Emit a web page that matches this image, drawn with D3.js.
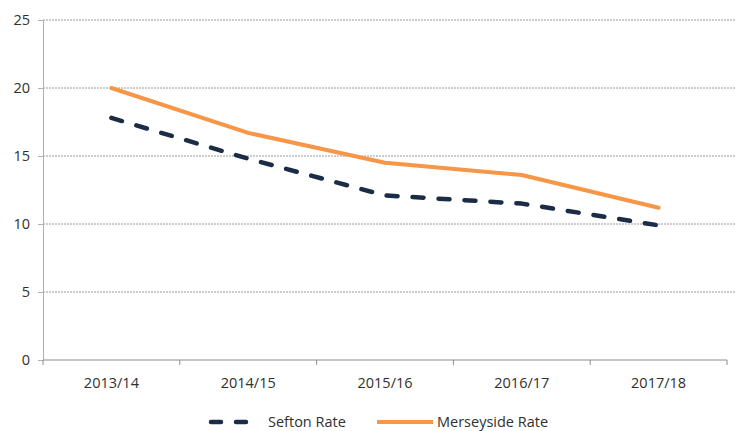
<!DOCTYPE html>
<html>
<head>
<meta charset="utf-8">
<script src="https://d3js.org/d3.v7.min.js"></script>
<style>
body { margin: 0; background: #fff; }
svg text { font-family: "Open Sans", "Liberation Sans", sans-serif; fill: #303030; }
</style>
</head>
<body>
<div id="chart"></div>
<script>
// data
const years = ['2013/14', '2014/15', '2015/16', '2016/17', '2017/18'];
const seftonRate = [17.8, 14.8, 12.1, 11.5, 9.9];
const merseysideRate = [20.0, 16.7, 14.5, 13.6, 11.2];
const yTicks = [0, 5, 10, 15, 20, 25];

const width = 737, height = 431;
const margin = {top: 20, right: 10, bottom: 71, left: 43};
const fontSize = '14.5px';

const svg = d3.select('#chart').append('svg')
	.attr('width', width).attr('height', height);

const x = d3.scaleBand().domain(years)
	.range([margin.left, width - margin.right]);
const y = d3.scaleLinear().domain([0, 25])
	.range([height - margin.bottom, margin.top]);

// gridlines
svg.append('g').selectAll('line').data(yTicks.filter(d => d > 0)).enter()
	.append('line')
	.attr('x1', margin.left).attr('x2', width - 2)
	.attr('y1', d => y(d)).attr('y2', d => y(d))
	.attr('stroke', '#9a9a9a').attr('stroke-width', 1)
	.attr('stroke-dasharray', '2,1');

// y axis
const yAxis = svg.append('g')
	.attr('transform', 'translate(' + margin.left + ',0)')
	.call(d3.axisLeft(y).tickValues(yTicks).tickSize(5).tickPadding(8));
yAxis.select('.domain').attr('stroke', '#b0b0b0');
yAxis.selectAll('.tick line').attr('stroke', '#b0b0b0');
yAxis.selectAll('text').style('font-size', fontSize).attr('fill', '#303030');

// x axis, ticks between categories
const xAxisG = svg.append('g')
	.attr('transform', 'translate(0,' + y(0) + ')');
xAxisG.append('line')
	.attr('x1', margin.left).attr('x2', width - margin.right)
	.attr('stroke', '#8c8c8c');
const bounds = years.map(d => x(d)).concat([x(years[years.length - 1]) + x.bandwidth()]);
xAxisG.selectAll('.xt').data(bounds).enter().append('line')
	.attr('x1', d => d).attr('x2', d => d).attr('y1', 0).attr('y2', 5)
	.attr('stroke', '#8c8c8c');
xAxisG.selectAll('text').data(years).enter().append('text')
	.attr('x', d => x(d) + x.bandwidth() / 2).attr('y', 28)
	.attr('text-anchor', 'middle').style('font-size', fontSize)
	.text(d => d);

const line = d3.line()
	.x((d, i) => x(years[i]) + x.bandwidth() / 2)
	.y(d => y(d));

svg.append('path').datum(merseysideRate)
	.attr('d', line).attr('fill', 'none')
	.attr('stroke', '#F79646').attr('stroke-width', 4)
	.attr('stroke-linejoin', 'round').attr('stroke-linecap', 'round');

svg.append('path').datum(seftonRate)
	.attr('d', line).attr('fill', 'none')
	.attr('stroke', '#1B2C47').attr('stroke-width', 4.5)
	.attr('stroke-dasharray', '11,15')
	.attr('stroke-linejoin', 'round').attr('stroke-linecap', 'round');

// legend
const legend = svg.append('g').attr('transform', 'translate(0,422)');
legend.append('line').attr('x1', 211).attr('x2', 247)
	.attr('stroke', '#1B2C47').attr('stroke-width', 4.5)
	.attr('stroke-dasharray', '10,15').attr('stroke-linecap', 'round');
legend.append('text').attr('x', 268).attr('y', 5)
	.style('font-size', fontSize).text('Sefton Rate');
legend.append('line').attr('x1', 377).attr('x2', 433)
	.attr('stroke', '#F79646').attr('stroke-width', 4);
legend.append('text').attr('x', 437).attr('y', 5)
	.style('font-size', fontSize).text('Merseyside Rate');
</script>
</body>
</html>
